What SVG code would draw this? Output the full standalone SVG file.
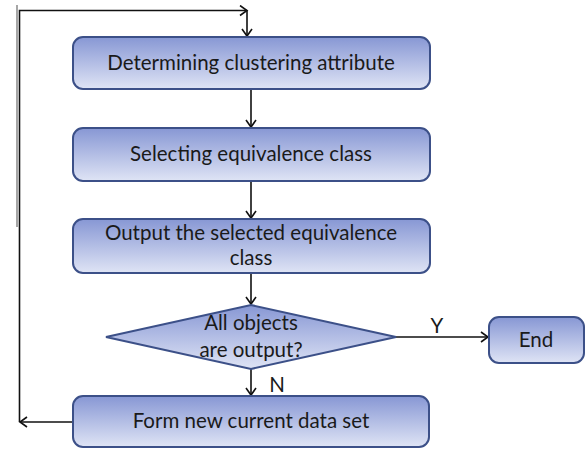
<svg xmlns="http://www.w3.org/2000/svg" width="587" height="451" viewBox="0 0 587 451">
<defs>
<linearGradient id="g" x1="0" y1="0" x2="0" y2="1">
<stop offset="0" stop-color="#8797d4"/>
<stop offset="1" stop-color="#dfe4f5"/>
</linearGradient>
<marker id="a" markerUnits="userSpaceOnUse" markerWidth="12" markerHeight="12" refX="9" refY="6" orient="auto">
<path d="M2,1 L9,6 L2,11" fill="none" stroke="#111" stroke-width="1.6"/>
</marker>
<style>
.n{fill:url(#g);stroke:#3c5088;stroke-width:2}
.t{font-family:Lato,"Open Sans",sans-serif;font-size:20.5px;fill:#1a1a1a;text-anchor:middle}
.c{fill:none;stroke:#111;stroke-width:1.6}
</style>
</defs>
<g id="connectors">
<line x1="17" y1="5" x2="17" y2="227" stroke="#888" stroke-width="1.5"/>
<path class="c" d="M73,422 H20" marker-end="url(#a)"/>
<path class="c" d="M19.5,422 V10.5 H247" marker-end="url(#a)"/>
<path class="c" d="M247,10.5 V36" marker-end="url(#a)"/>
<path class="c" d="M251,89 V127" marker-end="url(#a)"/>
<path class="c" d="M251,181 V218" marker-end="url(#a)"/>
<path class="c" d="M251,273 V304" marker-end="url(#a)"/>
<path class="c" d="M251,369 V395" marker-end="url(#a)"/>
<path class="c" d="M396,337 H488" marker-end="url(#a)"/>
<text class="t" x="437" y="333">Y</text>
<text class="t" x="277" y="392">N</text>
</g>
<g id="n1">
<rect class="n" x="73" y="37" width="357" height="52" rx="10"/>
<text class="t" x="251" y="70">Determining clustering attribute</text>
</g>
<g id="n2">
<rect class="n" x="73" y="128" width="357" height="53" rx="10"/>
<text class="t" x="251" y="161">Selecting equivalence class</text>
</g>
<g id="n3">
<rect class="n" x="73" y="219" width="357" height="54" rx="10"/>
<text class="t" x="251" y="240">Output the selected equivalence</text>
<text class="t" x="251" y="265">class</text>
</g>
<g id="n4">
<polygon class="n" points="251,305 396,337 251,369 106,337" stroke-width="2.5"/>
<text class="t" x="251" y="330">All objects</text>
<text class="t" x="251" y="357">are output?</text>
</g>
<g id="n5">
<rect class="n" x="489" y="317" width="95" height="46" rx="10"/>
<text class="t" x="536" y="347">End</text>
</g>
<g id="n6">
<rect class="n" x="73" y="396" width="356" height="51" rx="10"/>
<text class="t" x="251" y="428">Form new current data set</text>
</g>
</svg>
